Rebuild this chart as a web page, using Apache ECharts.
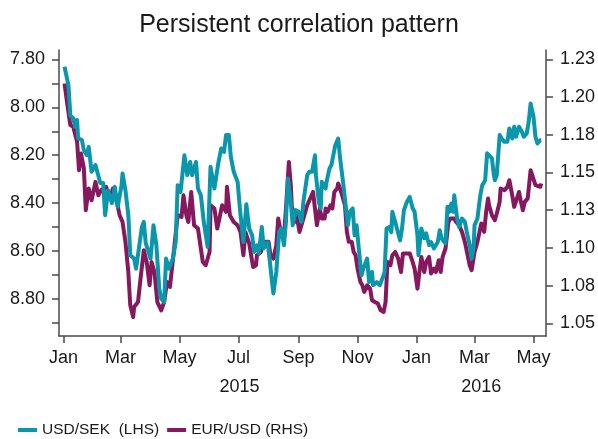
<!DOCTYPE html>
<html>
<head>
<meta charset="utf-8">
<script src="https://cdn.jsdelivr.net/npm/echarts@6/dist/echarts.min.js"></script>
<style>
  html, body { margin: 0; padding: 0; background: #fff; }
  #chart { width: 598px; height: 439px; }
</style>
</head>
<body>
<div id="chart"></div>
<script>
// USD/SEK (LHS, inverted)
const sekDates = ['2015-01-02','2015-01-06','2015-01-08','2015-01-11','2015-01-13','2015-01-15','2015-01-16','2015-01-20','2015-01-22','2015-01-25',
  '2015-01-27','2015-01-30','2015-02-03','2015-02-05','2015-02-08','2015-02-11','2015-02-13','2015-02-16','2015-02-20','2015-02-23',
  '2015-02-26','2015-03-02','2015-03-03','2015-03-06','2015-03-09','2015-03-11','2015-03-15','2015-03-17','2015-03-19','2015-03-23',
  '2015-03-25','2015-03-27','2015-04-01','2015-04-04','2015-04-07','2015-04-10','2015-04-12','2015-04-15','2015-04-17','2015-04-20',
  '2015-04-24','2015-04-27','2015-04-29','2015-05-02','2015-05-06','2015-05-09','2015-05-12','2015-05-14','2015-05-18','2015-05-20',
  '2015-05-23','2015-05-26','2015-05-30','2015-06-02','2015-06-06','2015-06-10','2015-06-13','2015-06-16','2015-06-18','2015-06-21',
  '2015-06-23','2015-06-26','2015-06-30','2015-07-03','2015-07-06','2015-07-09','2015-07-12','2015-07-15','2015-07-17','2015-07-20',
  '2015-07-22','2015-07-25','2015-07-27','2015-07-31','2015-08-02','2015-08-05','2015-08-06','2015-08-09','2015-08-12','2015-08-14',
  '2015-08-17','2015-08-19','2015-08-21','2015-08-24','2015-08-26','2015-08-29','2015-09-01','2015-09-04','2015-09-06','2015-09-10',
  '2015-09-12','2015-09-15','2015-09-18','2015-09-19','2015-09-22','2015-09-24','2015-09-25','2015-09-29','2015-09-30','2015-10-03',
  '2015-10-05','2015-10-09','2015-10-12','2015-10-14','2015-10-17','2015-10-19','2015-10-22','2015-10-24','2015-10-27','2015-10-29',
  '2015-10-31','2015-11-03','2015-11-05','2015-11-07','2015-11-11','2015-11-13','2015-11-16','2015-11-17','2015-11-21','2015-11-24',
  '2015-11-28','2015-11-29','2015-12-01','2015-12-04','2015-12-06','2015-12-07','2015-12-10','2015-12-11','2015-12-15','2015-12-17',
  '2015-12-19','2015-12-22','2015-12-25','2015-12-28','2015-12-30','2016-01-02','2016-01-03','2016-01-06','2016-01-09','2016-01-11',
  '2016-01-14','2016-01-16','2016-01-19','2016-01-23','2016-01-25','2016-01-27','2016-01-31','2016-02-02','2016-02-04','2016-02-06',
  '2016-02-08','2016-02-09','2016-02-12','2016-02-14','2016-02-17','2016-02-20','2016-02-22','2016-02-25','2016-02-27','2016-02-29',
  '2016-03-01','2016-03-04','2016-03-07','2016-03-09','2016-03-12','2016-03-14','2016-03-16','2016-03-19','2016-03-21','2016-03-22',
  '2016-03-24','2016-03-27','2016-03-29','2016-04-01','2016-04-04','2016-04-06','2016-04-09','2016-04-11','2016-04-13','2016-04-16',
  '2016-04-19','2016-04-21','2016-04-24','2016-04-26','2016-04-28','2016-05-01','2016-05-03','2016-05-05','2016-05-08','2016-05-09']
const sekValues = [7.831,7.907,8.033,8.046,8.081,8.053,8.129,8.137,8.179,8.200,
  8.165,8.269,8.241,8.241,8.316,8.316,8.450,8.346,8.400,8.332,
  8.415,8.325,8.276,8.346,8.450,8.617,8.631,8.673,8.671,8.499,
  8.478,8.567,8.631,8.492,8.575,8.756,8.798,8.812,8.631,8.673,
  8.631,8.562,8.325,8.353,8.200,8.283,8.228,8.283,8.228,8.339,
  8.367,8.478,8.582,8.248,8.339,8.234,8.172,8.186,8.116,8.116,
  8.207,8.269,8.311,8.450,8.562,8.404,8.506,8.534,8.603,8.576,
  8.609,8.499,8.588,8.563,8.631,8.742,8.777,8.687,8.520,8.506,
  8.575,8.478,8.297,8.395,8.492,8.429,8.436,8.478,8.395,8.283,
  8.269,8.269,8.200,8.283,8.395,8.422,8.311,8.339,8.311,8.255,
  8.241,8.158,8.130,8.213,8.311,8.311,8.492,8.436,8.422,8.534,
  8.492,8.617,8.701,8.673,8.631,8.729,8.687,8.742,8.729,8.742,
  8.701,8.687,8.506,8.499,8.521,8.436,8.479,8.475,8.555,8.506,
  8.429,8.395,8.374,8.421,8.436,8.534,8.617,8.506,8.547,8.526,
  8.575,8.562,8.589,8.562,8.513,8.547,8.568,8.415,8.436,8.401,
  8.436,8.367,8.464,8.499,8.464,8.478,8.520,8.575,8.631,8.589,
  8.492,8.464,8.367,8.325,8.304,8.192,8.200,8.213,8.283,8.304,
  8.283,8.116,8.130,8.144,8.144,8.088,8.130,8.081,8.123,8.081,
  8.102,8.123,8.109,8.061,7.984,8.040,8.123,8.151,8.137,8.137]

// EUR/USD (RHS)
const eurDates = ['2015-01-02','2015-01-05','2015-01-08','2015-01-11','2015-01-15','2015-01-17','2015-01-19','2015-01-22','2015-01-24','2015-01-27',
  '2015-01-30','2015-02-03','2015-02-06','2015-02-09','2015-02-14','2015-02-18','2015-02-21','2015-02-25','2015-02-28','2015-03-03',
  '2015-03-06','2015-03-09','2015-03-11','2015-03-14','2015-03-15','2015-03-19','2015-03-22','2015-03-25','2015-03-28','2015-03-31',
  '2015-04-02','2015-04-05','2015-04-08','2015-04-12','2015-04-15','2015-04-18','2015-04-21','2015-04-25','2015-04-29','2015-05-03',
  '2015-05-05','2015-05-08','2015-05-10','2015-05-13','2015-05-16','2015-05-20','2015-05-25','2015-05-28','2015-06-01','2015-06-02',
  '2015-06-06','2015-06-09','2015-06-14','2015-06-18','2015-06-19','2015-06-22','2015-06-26','2015-06-30','2015-07-03','2015-07-06',
  '2015-07-08','2015-07-12','2015-07-16','2015-07-19','2015-07-20','2015-07-24','2015-07-26','2015-07-29','2015-08-01','2015-08-03',
  '2015-08-06','2015-08-09','2015-08-11','2015-08-13','2015-08-17','2015-08-19','2015-08-22','2015-08-24','2015-08-25','2015-08-28',
  '2015-08-30','2015-09-02','2015-09-05','2015-09-07','2015-09-10','2015-09-12','2015-09-16','2015-09-18','2015-09-20','2015-09-23',
  '2015-09-25','2015-09-28','2015-09-29','2015-10-01','2015-10-04','2015-10-06','2015-10-08','2015-10-11','2015-10-12','2015-10-14',
  '2015-10-17','2015-10-19','2015-10-21','2015-10-23','2015-10-26','2015-10-28','2015-10-30','2015-11-01','2015-11-04','2015-11-06',
  '2015-11-08','2015-11-11','2015-11-14','2015-11-16','2015-11-19','2015-11-22','2015-11-25','2015-11-28','2015-11-30','2015-12-02',
  '2015-12-05','2015-12-07','2015-12-10','2015-12-13','2015-12-16','2015-12-18','2015-12-22','2015-12-25','2015-12-28','2015-12-30',
  '2016-01-02','2016-01-04','2016-01-06','2016-01-09','2016-01-11','2016-01-14','2016-01-16','2016-01-19','2016-01-21','2016-01-24',
  '2016-01-26','2016-01-28','2016-01-31','2016-02-03','2016-02-05','2016-02-09','2016-02-11','2016-02-14','2016-02-17','2016-02-20',
  '2016-02-22','2016-02-25','2016-02-27','2016-03-01','2016-03-04','2016-03-06','2016-03-08','2016-03-11','2016-03-13','2016-03-15',
  '2016-03-16','2016-03-19','2016-03-22','2016-03-24','2016-03-27','2016-03-28','2016-04-01','2016-04-04','2016-04-06','2016-04-09',
  '2016-04-11','2016-04-13','2016-04-16','2016-04-18','2016-04-20','2016-04-22','2016-04-25','2016-04-28','2016-04-30','2016-05-03',
  '2016-05-05','2016-05-08','2016-05-09']
const eurValues = [1.2090,1.1947,1.1814,1.1803,1.1703,1.1515,1.1626,1.1527,1.1250,1.1394,
  1.1316,1.1438,1.1349,1.1383,1.1405,1.1328,1.1394,1.1305,1.1217,1.1172,
  1.1040,1.0840,1.0619,1.0542,1.0608,1.0641,1.0819,1.0984,1.0907,1.0752,
  1.0907,1.0840,1.0641,1.0586,1.0641,1.0774,1.0741,1.0973,1.1217,1.1205,
  1.1349,1.1217,1.1172,1.1371,1.1150,1.1128,1.0907,1.0885,1.0973,1.1283,
  1.1261,1.1128,1.1283,1.1239,1.1405,1.1217,1.1172,1.1150,1.1106,1.0951,
  1.1106,1.1029,1.0874,1.0885,1.0951,1.0973,1.1018,1.1040,1.1040,1.0951,
  1.0929,1.1018,1.1195,1.1128,1.1084,1.1261,1.1570,1.1416,1.1283,1.1172,
  1.1217,1.1106,1.1172,1.1217,1.1283,1.1296,1.1371,1.1261,1.1150,1.1261,
  1.1195,1.1195,1.1261,1.1239,1.1283,1.1261,1.1371,1.1394,1.1427,1.1394,
  1.1328,1.1283,1.1106,1.1040,1.1040,1.0973,1.0951,1.0863,1.0774,1.0752,
  1.0708,1.0752,1.0730,1.0653,1.0641,1.0631,1.0586,1.0575,1.0641,1.0907,
  1.0885,1.0951,1.0973,1.0931,1.0840,1.0963,1.0963,1.0963,1.0907,1.0863,
  1.0730,1.0840,1.0940,1.0840,1.0907,1.0940,1.0830,1.0863,1.0840,1.0918,
  1.0840,1.0940,1.0996,1.1172,1.1195,1.1195,1.1172,1.1150,1.1106,1.1040,
  1.1040,1.0885,1.0852,1.0973,1.1040,1.1040,1.1162,1.1106,1.1239,1.1328,
  1.1283,1.1217,1.1183,1.1228,1.1305,1.1394,1.1383,1.1405,1.1449,1.1349,
  1.1272,1.1283,1.1371,1.1305,1.1250,1.1305,1.1328,1.1515,1.1515,1.1416,
  1.1427,1.1405,1.1427]

// axis ticks and labels
const monthTicks = ['2015-01-01','2015-03-01','2015-05-01','2015-07-01','2015-09-01','2015-11-01','2016-01-01','2016-03-01','2016-05-01']
const monthNames = ['Jan','Feb','Mar','Apr','May','Jun','Jul','Aug','Sep','Oct','Nov','Dec']
const yearLabelDates = ['2015-07-02','2016-03-08']
const yearLabels = ['2015','2016']
const leftTicks = [7.8, 7.9, 8.0, 8.1, 8.2, 8.3, 8.4, 8.5, 8.6, 8.7, 8.8, 8.9]
const leftLabels = [7.8, 8.0, 8.2, 8.4, 8.6, 8.8]
const rightTicks = [1.05, 1.075, 1.1, 1.125, 1.15, 1.175, 1.2, 1.225]

const seriesNames = ['USD/SEK  (LHS)', 'EUR/USD (RHS)']
const colors = { sek: '#0A96AB', eur: '#86195E' }

const font = 'Liberation Sans'
const axisColor = '#4a4a4a'

// date string -> local timestamp
const ts = (s, h) => {
  const p = s.split('-').map(Number)
  return new Date(p[0], p[1] - 1, p[2], h || 0).getTime()
}
const xMin = ts('2014-12-27', 7)
const xMax = ts('2016-05-13', 21)

const chart = echarts.init(document.getElementById('chart'), null, { renderer: 'canvas' })

const option = {
  animation: false,
  backgroundColor: '#fff',
  title: {
    text: 'Persistent correlation pattern',
    left: 'center',
    top: 8,
    textStyle: { fontFamily: font, fontSize: 25, fontWeight: 'normal', color: '#1a1a1a' }
  },
  legend: {
    data: seriesNames,
    left: 13,
    top: 417,
    icon: 'rect',
    itemWidth: 19,
    itemHeight: 4,
    itemGap: 8,
    textStyle: { fontFamily: font, fontSize: 15.5, color: '#1a1a1a' }
  },
  grid: {
    left: 59,
    right: 50,
    top: 50,
    bottom: 103,
    containLabel: false
  },
  xAxis: [
    {
      type: 'value',
      min: xMin,
      max: xMax,
      axisLine: { show: true, lineStyle: { color: axisColor, width: 1.5 } },
      axisTick: { show: true, length: 7, lineStyle: { color: axisColor, width: 1.5 }, customValues: monthTicks.map(d => ts(d)) },
      axisLabel: {
        customValues: monthTicks.map(d => ts(d)),
        margin: 13,
        fontFamily: font,
        fontSize: 18,
        color: '#1a1a1a',
        formatter: v => monthNames[new Date(v).getMonth()]
      },
      splitLine: { show: false }
    },
    {
      type: 'value',
      position: 'bottom',
      min: xMin,
      max: xMax,
      axisLine: { show: false },
      axisTick: { show: false },
      axisLabel: {
        customValues: yearLabelDates.map(d => ts(d)),
        margin: 42,
        fontFamily: font,
        fontSize: 18,
        color: '#1a1a1a',
        formatter: v => yearLabels[new Date(v).getFullYear() - 2015]
      },
      splitLine: { show: false }
    }
  ],
  yAxis: [
    {
      type: 'value',
      position: 'left',
      inverse: true,
      min: 7.761,
      max: 8.954,
      axisLine: { show: true, lineStyle: { color: axisColor, width: 1.5 } },
      axisTick: { show: true, length: 7, lineStyle: { color: axisColor, width: 1.5 }, customValues: leftTicks },
      axisLabel: {
        customValues: leftLabels,
        margin: 14,
        fontFamily: font,
        fontSize: 18,
        color: '#1a1a1a',
        formatter: v => v.toFixed(2)
      },
      splitLine: { show: false }
    },
    {
      type: 'value',
      position: 'right',
      min: 1.0416,
      max: 1.2312,
      axisLine: { show: true, lineStyle: { color: axisColor, width: 1.5 } },
      axisTick: { show: true, length: 7, lineStyle: { color: axisColor, width: 1.5 }, customValues: rightTicks },
      axisLabel: {
        customValues: rightTicks,
        margin: 14,
        fontFamily: font,
        fontSize: 18,
        color: '#1a1a1a',
        formatter: v => (v + 1e-9).toFixed(2)
      },
      splitLine: { show: false }
    }
  ],
  series: [
    {
      name: seriesNames[1],
      type: 'line',
      xAxisIndex: 0,
      yAxisIndex: 1,
      data: eurDates.map((d, i) => [ts(d), eurValues[i]]),
      showSymbol: false,
      lineStyle: { color: colors.eur, width: 4, join: 'round' },
      itemStyle: { color: colors.eur }
    },
    {
      name: seriesNames[0],
      type: 'line',
      xAxisIndex: 0,
      yAxisIndex: 0,
      data: sekDates.map((d, i) => [ts(d), sekValues[i]]),
      showSymbol: false,
      lineStyle: { color: colors.sek, width: 4, join: 'round' },
      itemStyle: { color: colors.sek }
    }
  ]
}

chart.setOption(option)
</script>
</body>
</html>
